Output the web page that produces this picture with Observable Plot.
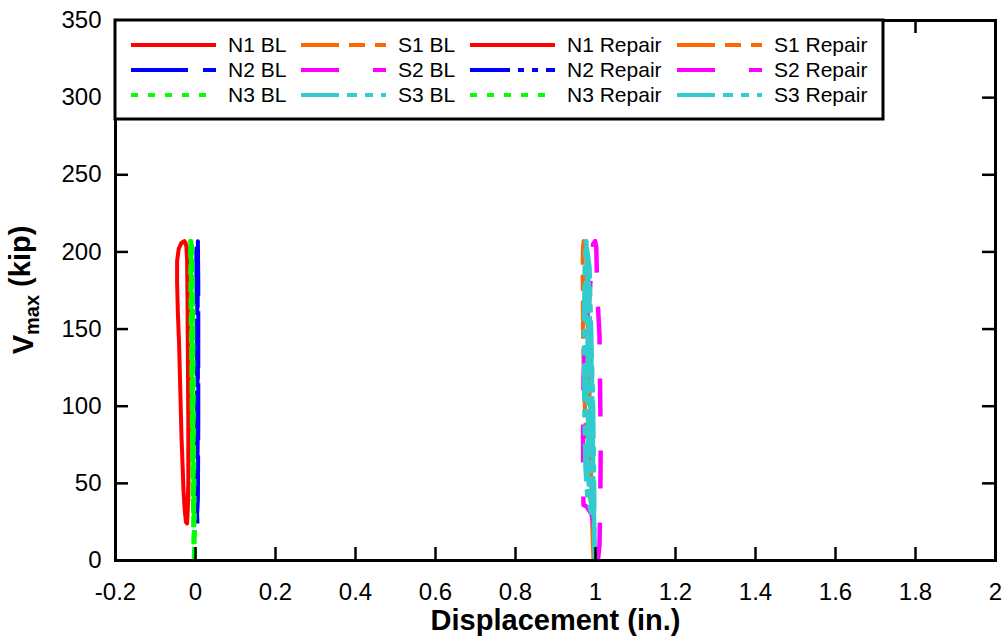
<!DOCTYPE html>
<html>
<head>
<meta charset="utf-8">
<script src="https://cdn.jsdelivr.net/npm/d3@7"></script>
<script src="https://cdn.jsdelivr.net/npm/@observablehq/plot@0.6"></script>
<style>
  body { margin: 0; background: #fff; }
  #chart svg { display: block; }
</style>
</head>
<body>
<div id="chart"></div>
<script>
// Axis ticks
const xTicks = [-0.2, 0, 0.2, 0.4, 0.6, 0.8, 1, 1.2, 1.4, 1.6, 1.8, 2];
const yTicks = [0, 50, 100, 150, 200, 250, 300, 350];

// Displacement (in.) vs. shear (kip), traced as recorded pairs [disp, V]
const n1BL = [
  [-0.021, 24],
  [-0.018, 50], [-0.018, 90], [-0.019, 130], [-0.020, 170], [-0.021, 195], [-0.023, 204],
  [-0.028, 207], [-0.035, 206], [-0.042, 202], [-0.046, 194], [-0.046, 180], [-0.044, 160],
  [-0.041, 140], [-0.039, 120], [-0.037, 100], [-0.035, 80], [-0.032, 60], [-0.030, 45],
  [-0.027, 33], [-0.024, 25], [-0.021, 24],
  [-0.018, 40], [-0.017, 80], [-0.017, 120], [-0.019, 160], [-0.020, 190], [-0.022, 203], [-0.026, 207]
];
const n2BL = [
  [0.004, 24], [0.005, 60], [0.006, 100], [0.006, 150], [0.005, 190], [0.004, 207],
  [0.002, 200], [0.003, 150], [0.004, 100], [0.004, 50], [0.003, 24],
  [0.006, 40], [0.007, 90], [0.007, 140], [0.007, 180], [0.006, 207],
  [0.004, 190], [0.005, 130], [0.005, 70], [0.004, 30], [0.005, 24]
];
const n3BL = [
  [-0.003, 0], [-0.004, 24], [-0.006, 60], [-0.008, 110], [-0.011, 160], [-0.012, 200], [-0.011, 207],
  [-0.009, 195], [-0.008, 150], [-0.006, 100], [-0.005, 50], [-0.004, 24],
  [-0.006, 45], [-0.008, 90], [-0.010, 140], [-0.012, 185], [-0.012, 207],
  [-0.008, 180], [-0.006, 130], [-0.005, 80], [-0.003, 30], [-0.002, 0],
  [-0.004, 20], [-0.007, 70], [-0.009, 120], [-0.010, 170], [-0.010, 207],
  [-0.007, 160], [-0.007, 110], [-0.006, 60], [-0.004, 10]
];
const s1BL = [
  [0.995, 0], [0.992, 20], [0.990, 34], [0.985, 45], [0.978, 70], [0.972, 110], [0.969, 140],
  [0.968, 170], [0.968, 200], [0.970, 207], [0.975, 200], [0.980, 160], [0.985, 110],
  [0.989, 60], [0.991, 34], [0.993, 20], [0.996, 0]
];
const s2BL = [
  [1.006, 0], [1.010, 10], [1.012, 40], [1.013, 75], [1.012, 100], [1.010, 146], [1.005, 170],
  [1.003, 190], [1.002, 203], [0.999, 207], [0.994, 205], [0.990, 190], [0.983, 165],
  [0.975, 150], [0.970, 118], [0.969, 80], [0.969, 50], [0.970, 36], [0.978, 35],
  [0.990, 30], [0.997, 20], [1.003, 10]
];
const s3BL = [
  [0.998, 0], [0.996, 24], [0.990, 30], [0.980, 40], [0.975, 60], [0.972, 100], [0.971, 150],
  [0.973, 190], [0.975, 207], [0.980, 200], [0.985, 190], [0.989, 150], [0.994, 100],
  [0.996, 60], [0.997, 35], [0.995, 26], [0.985, 35], [0.979, 60], [0.977, 100], [0.976, 150],
  [0.977, 190], [0.976, 207], [0.981, 190], [0.984, 150], [0.987, 100], [0.989, 60], [0.990, 35],
  [0.983, 50], [0.981, 100], [0.980, 150], [0.978, 200], [0.977, 207], [0.983, 180],
  [0.991, 120], [0.993, 80], [0.995, 40], [0.997, 20], [0.999, 0]
];

// Series in drawing order, with their line styles
const series = [
  { name: "N1 BL", data: n1BL, color: "#ff0000", dash: null, width: 4 },
  { name: "N2 BL", data: n2BL, color: "#0000ff", dash: "57,15", width: 4 },
  { name: "N3 BL", data: n3BL, color: "#00ff00", dash: "7,10", width: 5 },
  { name: "S1 BL", data: s1BL, color: "#ff6600", dash: "38,10,16,10", width: 4 },
  { name: "S2 BL", data: s2BL, color: "#ff00ff", dash: "38,34", width: 4.5 },
  { name: "S3 BL", data: s3BL, color: "#33cccc", dash: "38,8,10,8,8,8", width: 4.5 }
];
// Legend entries (row by row, four columns)
const legendRows = [
  ["N1 BL", "S1 BL", "N1 Repair", "S1 Repair"],
  ["N2 BL", "S2 BL", "N2 Repair", "S2 Repair"],
  ["N3 BL", "S3 BL", "N3 Repair", "S3 Repair"]
];
const legendStyle = {
  "N1 BL": ["#ff0000", null], "N1 Repair": ["#ff0000", null],
  "N2 BL": ["#0000ff", "57,15"], "N2 Repair": ["#0000ff", "40,8,6,8,6,8"],
  "N3 BL": ["#00ff00", "7,10"], "N3 Repair": ["#00ff00", "7,10"],
  "S1 BL": ["#ff6600", "38,10,16,10"], "S1 Repair": ["#ff6600", "38,10,16,10"],
  "S2 BL": ["#ff00ff", "38,34"], "S2 Repair": ["#ff00ff", "38,34"],
  "S3 BL": ["#33cccc", "38,8,10,8,8,8"], "S3 Repair": ["#33cccc", "38,8,10,8,8,8"]
};

const W = 1007, H = 643;
const mL = 115, mR = 12, mT = 20, mB = 83;
const innerW = W - mL - mR, innerH = H - mT - mB;
const tickLen = 13;
const font = "'Liberation Sans', Arial, sans-serif";
const fmt = d => String(+d.toFixed(1));

const chart = Plot.plot({
  width: W, height: H,
  marginLeft: mL, marginRight: mR, marginTop: mT, marginBottom: mB,
  style: { fontFamily: font, background: "#fff", color: "#000" },
  x: { domain: [-0.2, 2] },
  y: { domain: [0, 350] },
  marks: [
    ...series.map(s => Plot.line(s.data, {
      x: d => d[0], y: d => d[1],
      stroke: s.color, strokeWidth: s.width,
      strokeDasharray: s.dash, strokeLinecap: "butt", strokeLinejoin: "round"
    })),
    Plot.axisX({ ticks: xTicks, tickSize: 0, tickPadding: 22, tickFormat: fmt, fontSize: 24, label: null }),
    Plot.axisY({ ticks: yTicks, tickSize: 0, tickPadding: 14, fontSize: 24, label: null }),
    // inward ticks on all four sides
    Plot.tickX(xTicks, { x: d => d, insetTop: innerH - tickLen, stroke: "#000", strokeWidth: 2.5 }),
    Plot.tickX(xTicks, { x: d => d, insetBottom: innerH - tickLen, stroke: "#000", strokeWidth: 2.5 }),
    Plot.tickY(yTicks, { y: d => d, insetRight: innerW - tickLen, stroke: "#000", strokeWidth: 2.5 }),
    Plot.tickY(yTicks, { y: d => d, insetLeft: innerW - tickLen, stroke: "#000", strokeWidth: 2.5 }),
    Plot.frame({ stroke: "#000", strokeWidth: 3 }),
    Plot.text(["Displacement (in.)"], {
      frameAnchor: "bottom", dy: 69, fontWeight: "bold", fontSize: 29, fill: "#000"
    })
  ]
});
document.getElementById("chart").appendChild(chart);

const svg = d3.select(chart);

// Y-axis title with subscript
const yTitle = svg.append("text")
  .attr("transform", `translate(23,${mT + innerH / 2}) rotate(-90)`)
  .attr("text-anchor", "middle")
  .attr("dy", "0.35em")
  .attr("font-family", font)
  .attr("font-weight", "bold")
  .attr("font-size", 29)
  .attr("fill", "#000");
yTitle.append("tspan").text("V");
yTitle.append("tspan").attr("font-size", 20).attr("dy", "0.3em").text("max");
yTitle.append("tspan").attr("dy", "-0.3em").text(" (kip)");

// Legend box in the upper-left corner of the plot
const lg = svg.append("g").attr("text-anchor", "start");
lg.append("rect")
  .attr("x", mL).attr("y", mT).attr("width", 883 - mL).attr("height", 119 - mT)
  .attr("fill", "#fff").attr("stroke", "#000").attr("stroke-width", 3);
const colSample = [131, 301, 470, 677];
const rowY = [45, 70, 95];
legendRows.forEach((row, r) => {
  row.forEach((name, c) => {
    const [color, dash] = legendStyle[name];
    lg.append("line")
      .attr("x1", colSample[c]).attr("x2", colSample[c] + 85)
      .attr("y1", rowY[r]).attr("y2", rowY[r])
      .attr("stroke", color).attr("stroke-width", 4)
      .attr("stroke-dasharray", dash);
    lg.append("text")
      .attr("x", colSample[c] + 97).attr("y", rowY[r]).attr("dy", "0.35em")
      .attr("text-anchor", "start")
      .attr("font-family", font).attr("font-size", 21).attr("fill", "#000")
      .text(name);
  });
});
</script>
</body>
</html>
